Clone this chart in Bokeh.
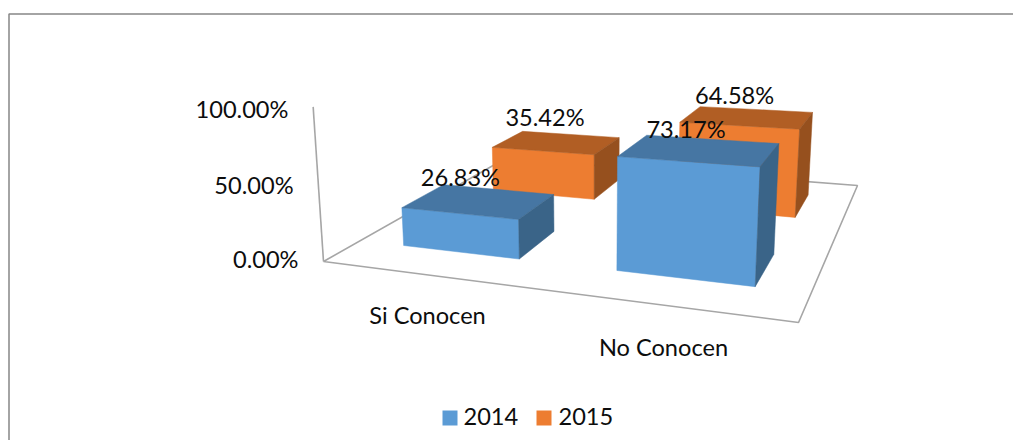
from bokeh.plotting import figure
from bokeh.embed import file_html
from bokeh.resources import INLINE
from bokeh.core.properties import value

categories = ["Si Conocen", "No Conocen"]
series_names = ["2014", "2015"]
values_2014 = [26.83, 73.17]
values_2015 = [35.42, 64.58]
axis_ticks = [0, 50, 100]
axis_max = 100

FONT = value("Lato")
FS = "23.6px"
TXT = "#0d0d0d"
GRID = "#a6a6a6"
FRAME = "#868686"
COLORS = {"2014": ("#5b9bd5", "#4676a3", "#3a6488"),
          "2015": ("#ed7d31", "#b15e24", "#96501e")}

W, H = 1013, 440

# Perspective camera (3x4 projective matrix): u across categories, v across series, z up
CAM = [[336.5, 373.1, -21.3, 323.0],
       [5.1, -43.2, -154.0, 261.0],
       [-0.1736, 0.3785, -0.036, 1.0]]
HALF_U, HALF_V = 0.141, 0.105
U_SHIFT, V_SHIFT = 0.003, 0.012


def proj(u, v, z=0.0):
    a, b, c = CAM
    w = c[0]*u + c[1]*v + c[2]*z + c[3]
    return ((a[0]*u + a[1]*v + a[2]*z + a[3]) / w,
            (b[0]*u + b[1]*v + b[2]*z + b[3]) / w)


p = figure(width=W, height=H, x_range=(0, W), y_range=(H, 0),
           output_backend="svg", toolbar_location=None, min_border=0,
           background_fill_color="white", border_fill_color="white", outline_line_color=None)
p.axis.visible = False
p.grid.visible = False

# chart frame (runs off the page to the right and bottom)
p.line([8.5, 8.5, W], [H, 13.5, 13.5], line_color=FRAME, line_width=1.5)

# floor
fx, fy = zip(*[proj(u, v) for u, v in [(0, 0), (1, 0), (1, 1), (0, 1), (0, 0)]])
p.line(list(fx), list(fy), line_color=GRID, line_width=1.6)

# value axis
ax_top = proj(0, 0, 1.03)
ax_bot = proj(0, 0, 0)
p.line([ax_top[0], ax_bot[0]], [ax_top[1], ax_bot[1]], line_color=GRID, line_width=1.6)
for t in axis_ticks:
    x, y = proj(0, 0, t / axis_max)
    p.text([x - 25], [y - 2.5], text=[f"{t:.2f}%"], text_font=FONT, text_font_size=FS,
           text_color=TXT, text_align="right", text_baseline="middle")


def centre(ci, si):
    return (ci + 0.5) / len(categories) + U_SHIFT, (si + 0.5) / len(series_names) + V_SHIFT


def bar(ci, si, val, colors):
    cu, cv = centre(ci, si)
    u0, u1, v0, v1 = cu - HALF_U, cu + HALF_U, cv - HALF_V, cv + HALF_V
    z = val / axis_max
    faces = [
        ([(u0, v0, 0), (u1, v0, 0), (u1, v0, z), (u0, v0, z)], colors[0]),
        ([(u0, v0, z), (u1, v0, z), (u1, v1, z), (u0, v1, z)], colors[1]),
        ([(u1, v0, 0), (u1, v1, 0), (u1, v1, z), (u1, v0, z)], colors[2]),
    ]
    for pts, col in faces:
        xs, ys = zip(*[proj(*q) for q in pts])
        p.patch(list(xs), list(ys), fill_color=col, line_color=col, line_width=0.5)


# draw back to front
for si in (1, 0):
    vals = values_2015 if si == 1 else values_2014
    for ci in range(len(categories)):
        bar(ci, si, vals[ci], COLORS[series_names[si]])

# data labels, offset from each bar's top centre
label_off = {(0, 0): (-18.5, -24), (0, 1): (-11.5, -25), (1, 0): (-13.5, -21), (1, 1): (-12.5, -22)}
for si, vals in enumerate([values_2014, values_2015]):
    for ci, v in enumerate(vals):
        cu, cv = centre(ci, si)
        x, y = proj(cu, cv, v / axis_max)
        dx, dy = label_off[(ci, si)]
        p.text([x + dx], [y + dy], text=[f"{v:.2f}%"], text_font=FONT, text_font_size=FS,
               text_color=TXT, text_align="center", text_baseline="middle")

# category labels
cat_pos = [(427, 314), (663, 346)]
for name, (x, y) in zip(categories, cat_pos):
    p.text([x], [y], text=[name], text_font=FONT, text_font_size=FS, text_color=TXT,
           text_align="center", text_baseline="middle")

# legend
leg_x = [(442, 463), (536, 558)]
for name, (bx, tx) in zip(series_names, leg_x):
    p.quad(left=[bx], right=[bx + 15], top=[410], bottom=[425],
           fill_color=COLORS[name][0], line_color=None)
    p.text([tx], [416], text=[name], text_font=FONT, text_font_size=FS, text_color=TXT,
           text_align="left", text_baseline="middle")

open("out.html", "w").write(file_html(p, INLINE))
